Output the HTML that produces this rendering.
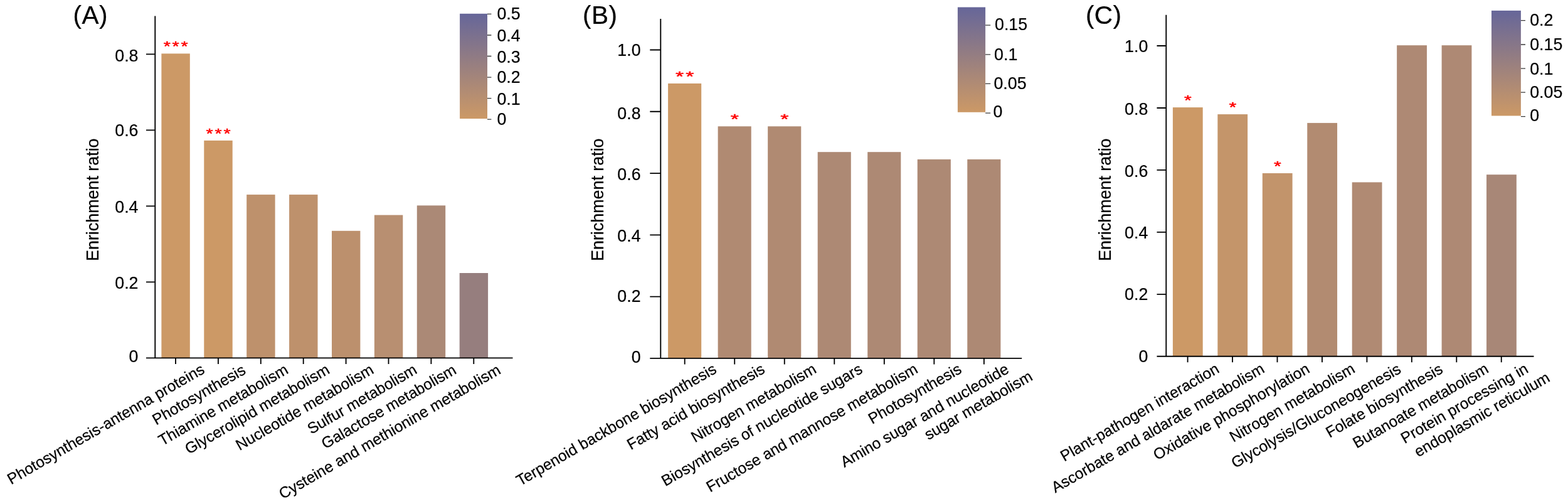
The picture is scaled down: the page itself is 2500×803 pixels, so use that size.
<!DOCTYPE html>
<html lang="en"><head><meta charset="utf-8"><title>Enrichment ratio</title>
<style>html,body{margin:0;padding:0;background:#fff}body{width:2500px;height:803px;overflow:hidden}svg{display:block}text{font-family:'Liberation Sans', sans-serif;fill:#000;stroke:#000;stroke-width:0.22px}</style>
</head><body>
<svg width="2500" height="803" viewBox="0 0 2500 803">
<defs><linearGradient id="cg" x1="0" y1="1" x2="0" y2="0"><stop offset="0" stop-color="#cc9966"/><stop offset="1" stop-color="#666699"/></linearGradient></defs>
<rect width="2500" height="803" fill="#fff"/>
<g id="panelA">
<text x="116.6" y="38.4" font-size="40.60" letter-spacing="0.45">(A)</text>
<rect x="257.40" y="85.40" width="45.40" height="485.00" fill="#cc9966"/>
<rect x="325.30" y="223.90" width="45.40" height="346.50" fill="#cc9966"/>
<rect x="393.20" y="310.10" width="45.40" height="260.30" fill="#be916c"/>
<rect x="461.10" y="310.10" width="45.40" height="260.30" fill="#be916c"/>
<rect x="529.00" y="367.80" width="45.40" height="202.60" fill="#bc906d"/>
<rect x="596.90" y="342.60" width="45.40" height="227.80" fill="#b88f71"/>
<rect x="664.80" y="327.40" width="45.40" height="243.00" fill="#ab8976"/>
<rect x="732.70" y="435.00" width="45.40" height="135.40" fill="#967e7e"/>
<path d="M247.30 25.60V571.35 M233.00 570.40H817.50" stroke="#000" stroke-width="1.90" fill="none"/>
<path d="M233.00 449.40H247.30M233.00 328.40H247.30M233.00 207.40H247.30M233.00 86.40H247.30M280.00 570.40V579.90M347.90 570.40V579.90M415.80 570.40V579.90M483.70 570.40V579.90M551.60 570.40V579.90M619.50 570.40V579.90M687.40 570.40V579.90M755.30 570.40V579.90" stroke="#000" stroke-width="1.85" fill="none"/>
<text transform="translate(220.50 577.00) scale(1 1.025)" font-size="26.80" text-anchor="end">0</text>
<text transform="translate(220.50 460.00) scale(1 1.025)" font-size="26.80" text-anchor="end">0.2</text>
<text transform="translate(220.50 339.00) scale(1 1.025)" font-size="26.80" text-anchor="end">0.4</text>
<text transform="translate(220.50 217.00) scale(1 1.025)" font-size="26.80" text-anchor="end">0.6</text>
<text transform="translate(220.50 98.00) scale(1 1.025)" font-size="26.80" text-anchor="end">0.8</text>
<text transform="translate(156.6 318.2) rotate(-90)" font-size="26.85" text-anchor="middle">Enrichment ratio</text>
<text transform="translate(281.58 80.62) scale(1.0620 0.8199)" font-size="27.0" letter-spacing="2.59" text-anchor="middle" style="fill:#ff0000;stroke:#ff0000;stroke-width:0.60;stroke-linejoin:round">***</text>
<text transform="translate(349.48 219.92) scale(1.0620 0.8199)" font-size="27.0" letter-spacing="2.59" text-anchor="middle" style="fill:#ff0000;stroke:#ff0000;stroke-width:0.60;stroke-linejoin:round">***</text>
<text class="xl" id="xl_A0_0" transform="translate(327.90 593.30) rotate(-30)" font-size="24.60" text-anchor="end">Photosynthesis-antenna proteins</text>
<text class="xl" id="xl_A1_0" transform="translate(393.40 594.30) rotate(-30)" font-size="24.60" text-anchor="end">Photosynthesis</text>
<text class="xl" id="xl_A2_0" transform="translate(461.20 593.80) rotate(-30)" font-size="24.60" text-anchor="end">Thiamine metabolism</text>
<text class="xl" id="xl_A3_0" transform="translate(527.20 593.80) rotate(-30)" font-size="24.60" text-anchor="end">Glycerolipid metabolism</text>
<text class="xl" id="xl_A4_0" transform="translate(597.40 593.80) rotate(-30)" font-size="24.60" text-anchor="end">Nucleotide metabolism</text>
<text class="xl" id="xl_A5_0" transform="translate(666.60 593.80) rotate(-30)" font-size="24.60" text-anchor="end">Sulfur metabolism</text>
<text class="xl" id="xl_A6_0" transform="translate(729.30 594.20) rotate(-30)" font-size="24.60" text-anchor="end">Galactose metabolism</text>
<text class="xl" id="xl_A7_0" transform="translate(799.90 594.20) rotate(-30)" font-size="24.60" text-anchor="end">Cysteine and methionine metabolism</text>
<rect x="733.10" y="21.80" width="43.90" height="167.30" fill="url(#cg)"/>
<path d="M777.00 190.20H783.40M777.00 156.70H783.40M777.00 123.10H783.40M777.00 89.50H783.40M777.00 56.00H783.40M777.00 22.40H783.40" stroke="#3a3a3a" stroke-width="1.3" fill="none"/>
<text transform="translate(792.45 198.60) scale(1 1.025)" font-size="26.80">0</text>
<text transform="translate(792.45 166.50) scale(1 1.025)" font-size="26.80">0.1</text>
<text transform="translate(792.45 132.10) scale(1 1.025)" font-size="26.80">0.2</text>
<text transform="translate(792.45 99.70) scale(1 1.025)" font-size="26.80">0.3</text>
<text transform="translate(792.45 65.50) scale(1 1.025)" font-size="26.80">0.4</text>
<text transform="translate(792.45 30.80) scale(1 1.025)" font-size="26.80">0.5</text>
</g>
<g id="panelB">
<text x="929.1" y="38.4" font-size="40.60" letter-spacing="0.45">(B)</text>
<rect x="1065.10" y="133.00" width="53.10" height="437.90" fill="#cc9966"/>
<rect x="1144.63" y="201.30" width="53.10" height="369.60" fill="#b08a72"/>
<rect x="1224.16" y="201.30" width="53.10" height="369.60" fill="#b08a72"/>
<rect x="1303.69" y="242.20" width="53.10" height="328.70" fill="#ad8974"/>
<rect x="1383.22" y="242.20" width="53.10" height="328.70" fill="#ad8974"/>
<rect x="1462.75" y="253.90" width="53.10" height="317.00" fill="#ad8974"/>
<rect x="1542.28" y="253.90" width="53.10" height="317.00" fill="#ad8974"/>
<path d="M1053.30 30.00V571.85 M1036.30 570.90H1629.20" stroke="#000" stroke-width="1.90" fill="none"/>
<path d="M1036.30 472.62H1053.30M1036.30 374.34H1053.30M1036.30 276.06H1053.30M1036.30 177.78H1053.30M1036.30 79.50H1053.30M1091.70 570.90V580.40M1171.23 570.90V580.40M1250.76 570.90V580.40M1330.29 570.90V580.40M1409.82 570.90V580.40M1489.35 570.90V580.40M1568.88 570.90V580.40" stroke="#000" stroke-width="1.85" fill="none"/>
<text transform="translate(1021.60 578.00) scale(1 1.025)" font-size="26.80" text-anchor="end">0</text>
<text transform="translate(1021.60 481.10) scale(1 1.025)" font-size="26.80" text-anchor="end">0.2</text>
<text transform="translate(1021.60 385.00) scale(1 1.025)" font-size="26.80" text-anchor="end">0.4</text>
<text transform="translate(1021.60 287.20) scale(1 1.025)" font-size="26.80" text-anchor="end">0.6</text>
<text transform="translate(1021.60 189.50) scale(1 1.025)" font-size="26.80" text-anchor="end">0.8</text>
<text transform="translate(1021.60 89.00) scale(1 1.025)" font-size="26.80" text-anchor="end">1.0</text>
<text transform="translate(962.0 318.2) rotate(-90)" font-size="26.85" text-anchor="middle">Enrichment ratio</text>
<text transform="translate(1093.31 129.12) scale(1.2536 0.8199)" font-size="27.0" letter-spacing="2.49" text-anchor="middle" style="fill:#ff0000;stroke:#ff0000;stroke-width:0.60;stroke-linejoin:round">**</text>
<text transform="translate(1172.84 197.22) scale(1.2536 0.8199)" font-size="27.0" letter-spacing="2.49" text-anchor="middle" style="fill:#ff0000;stroke:#ff0000;stroke-width:0.60;stroke-linejoin:round">*</text>
<text transform="translate(1252.37 197.22) scale(1.2536 0.8199)" font-size="27.0" letter-spacing="2.49" text-anchor="middle" style="fill:#ff0000;stroke:#ff0000;stroke-width:0.60;stroke-linejoin:round">*</text>
<text class="xl" id="xl_B0_0" transform="translate(1144.10 592.80) rotate(-30)" font-size="24.60" text-anchor="end">Terpenoid backbone biosynthesis</text>
<text class="xl" id="xl_B1_0" transform="translate(1221.23 592.80) rotate(-30)" font-size="24.60" text-anchor="end">Fatty acid biosynthesis</text>
<text class="xl" id="xl_B2_0" transform="translate(1303.26 592.80) rotate(-30)" font-size="24.60" text-anchor="end">Nitrogen metabolism</text>
<text class="xl" id="xl_B3_0" transform="translate(1376.79 592.80) rotate(-30)" font-size="24.60" text-anchor="end">Biosynthesis of nucleotide sugars</text>
<text class="xl" id="xl_B4_0" transform="translate(1465.02 592.80) rotate(-30)" font-size="24.60" text-anchor="end">Fructose and mannose metabolism</text>
<text class="xl" id="xl_B5_0" transform="translate(1534.85 592.80) rotate(-30)" font-size="24.60" text-anchor="end">Photosynthesis</text>
<text class="xl" id="xl_B6_0" transform="translate(1610.28 592.80) rotate(-30)" font-size="24.60" text-anchor="end">Amino sugar and nucleotide</text>
<text class="xl" id="xl_B6_1" transform="translate(1647.98 604.41) rotate(-30)" font-size="24.60" text-anchor="end">sugar metabolism</text>
<rect x="1526.90" y="11.50" width="44.20" height="167.30" fill="url(#cg)"/>
<path d="M1571.10 180.10H1579.20M1571.10 133.40H1579.20M1571.10 86.80H1579.20M1571.10 40.10H1579.20" stroke="#3a3a3a" stroke-width="1.3" fill="none"/>
<text transform="translate(1583.50 187.20) scale(1 1.025)" font-size="26.80">0</text>
<text transform="translate(1584.40 141.60) scale(1 1.025)" font-size="26.80">0.05</text>
<text transform="translate(1585.10 96.40) scale(1 1.025)" font-size="26.80">0.1</text>
<text transform="translate(1586.00 48.00) scale(1 1.025)" font-size="26.80">0.15</text>
</g>
<g id="panelC">
<text x="1730.9" y="38.4" font-size="40.60" letter-spacing="0.45">(C)</text>
<rect x="1869.90" y="171.10" width="47.80" height="396.70" fill="#cc9966"/>
<rect x="1941.35" y="182.10" width="47.80" height="385.70" fill="#c4956a"/>
<rect x="2012.80" y="276.00" width="47.80" height="291.80" fill="#c2946b"/>
<rect x="2084.25" y="195.90" width="47.80" height="371.90" fill="#b28b71"/>
<rect x="2155.70" y="290.40" width="47.80" height="277.40" fill="#b08a73"/>
<rect x="2227.15" y="72.20" width="47.80" height="495.60" fill="#ae8974"/>
<rect x="2298.60" y="72.20" width="47.80" height="495.60" fill="#ae8974"/>
<rect x="2370.05" y="278.20" width="47.80" height="289.60" fill="#a88777"/>
<path d="M1859.30 23.80V568.75 M1844.50 567.80H2445.50" stroke="#000" stroke-width="1.90" fill="none"/>
<path d="M1844.50 468.84H1859.30M1844.50 369.88H1859.30M1844.50 270.92H1859.30M1844.50 171.96H1859.30M1844.50 73.00H1859.30M1893.60 567.80V577.30M1965.05 567.80V577.30M2036.50 567.80V577.30M2107.95 567.80V577.30M2179.40 567.80V577.30M2250.85 567.80V577.30M2322.30 567.80V577.30M2393.75 567.80V577.30" stroke="#000" stroke-width="1.85" fill="none"/>
<text transform="translate(1830.30 577.10) scale(1 1.025)" font-size="26.80" text-anchor="end">0</text>
<text transform="translate(1830.30 477.70) scale(1 1.025)" font-size="26.80" text-anchor="end">0.2</text>
<text transform="translate(1830.30 379.60) scale(1 1.025)" font-size="26.80" text-anchor="end">0.4</text>
<text transform="translate(1830.30 282.20) scale(1 1.025)" font-size="26.80" text-anchor="end">0.6</text>
<text transform="translate(1830.30 183.20) scale(1 1.025)" font-size="26.80" text-anchor="end">0.8</text>
<text transform="translate(1830.30 82.90) scale(1 1.025)" font-size="26.80" text-anchor="end">1.0</text>
<text transform="translate(1771.0 318.2) rotate(-90)" font-size="26.85" text-anchor="middle">Enrichment ratio</text>
<text transform="translate(1895.33 167.12) scale(1.1205 0.8199)" font-size="27.0" letter-spacing="2.56" text-anchor="middle" style="fill:#ff0000;stroke:#ff0000;stroke-width:0.60;stroke-linejoin:round">*</text>
<text transform="translate(1966.78 177.92) scale(1.1205 0.8199)" font-size="27.0" letter-spacing="2.56" text-anchor="middle" style="fill:#ff0000;stroke:#ff0000;stroke-width:0.60;stroke-linejoin:round">*</text>
<text transform="translate(2038.23 271.82) scale(1.1205 0.8199)" font-size="27.0" letter-spacing="2.56" text-anchor="middle" style="fill:#ff0000;stroke:#ff0000;stroke-width:0.60;stroke-linejoin:round">*</text>
<text class="xl" id="xl_C0_0" transform="translate(1945.50 592.30) rotate(-30)" font-size="24.60" text-anchor="end">Plant-pathogen interaction</text>
<text class="xl" id="xl_C1_0" transform="translate(2017.65 592.30) rotate(-30)" font-size="24.60" text-anchor="end">Ascorbate and aldarate metabolism</text>
<text class="xl" id="xl_C2_0" transform="translate(2089.80 592.30) rotate(-30)" font-size="24.60" text-anchor="end">Oxidative phosphorylation</text>
<text class="xl" id="xl_C3_0" transform="translate(2161.95 592.30) rotate(-30)" font-size="24.60" text-anchor="end">Nitrogen metabolism</text>
<text class="xl" id="xl_C4_0" transform="translate(2235.50 592.80) rotate(-30)" font-size="24.60" text-anchor="end">Glycolysis/Gluconeogenesis</text>
<text class="xl" id="xl_C5_0" transform="translate(2302.25 592.80) rotate(-30)" font-size="24.60" text-anchor="end">Folate biosynthesis</text>
<text class="xl" id="xl_C6_0" transform="translate(2374.90 592.30) rotate(-30)" font-size="24.60" text-anchor="end">Butanoate metabolism</text>
<text class="xl" id="xl_C7_0" transform="translate(2438.45 592.30) rotate(-30)" font-size="24.60" text-anchor="end">Protein processing in</text>
<text class="xl" id="xl_C7_1" transform="translate(2472.85 606.41) rotate(-30)" font-size="24.60" text-anchor="end">endoplasmic reticulum</text>
<rect x="2378.00" y="16.90" width="46.90" height="167.60" fill="url(#cg)"/>
<path d="M2424.90 185.60H2432.00M2424.90 147.20H2432.00M2424.90 109.10H2432.00M2424.90 71.00H2432.00M2424.90 32.60H2432.00" stroke="#3a3a3a" stroke-width="1.3" fill="none"/>
<text transform="translate(2439.20 192.50) scale(1 1.025)" font-size="26.80">0</text>
<text transform="translate(2439.20 155.50) scale(1 1.025)" font-size="26.80">0.05</text>
<text transform="translate(2439.20 119.05) scale(1 1.025)" font-size="26.80">0.1</text>
<text transform="translate(2439.20 79.80) scale(1 1.025)" font-size="26.80">0.15</text>
<text transform="translate(2439.20 41.10) scale(1 1.025)" font-size="26.80">0.2</text>
</g>
</svg>
</body></html>
